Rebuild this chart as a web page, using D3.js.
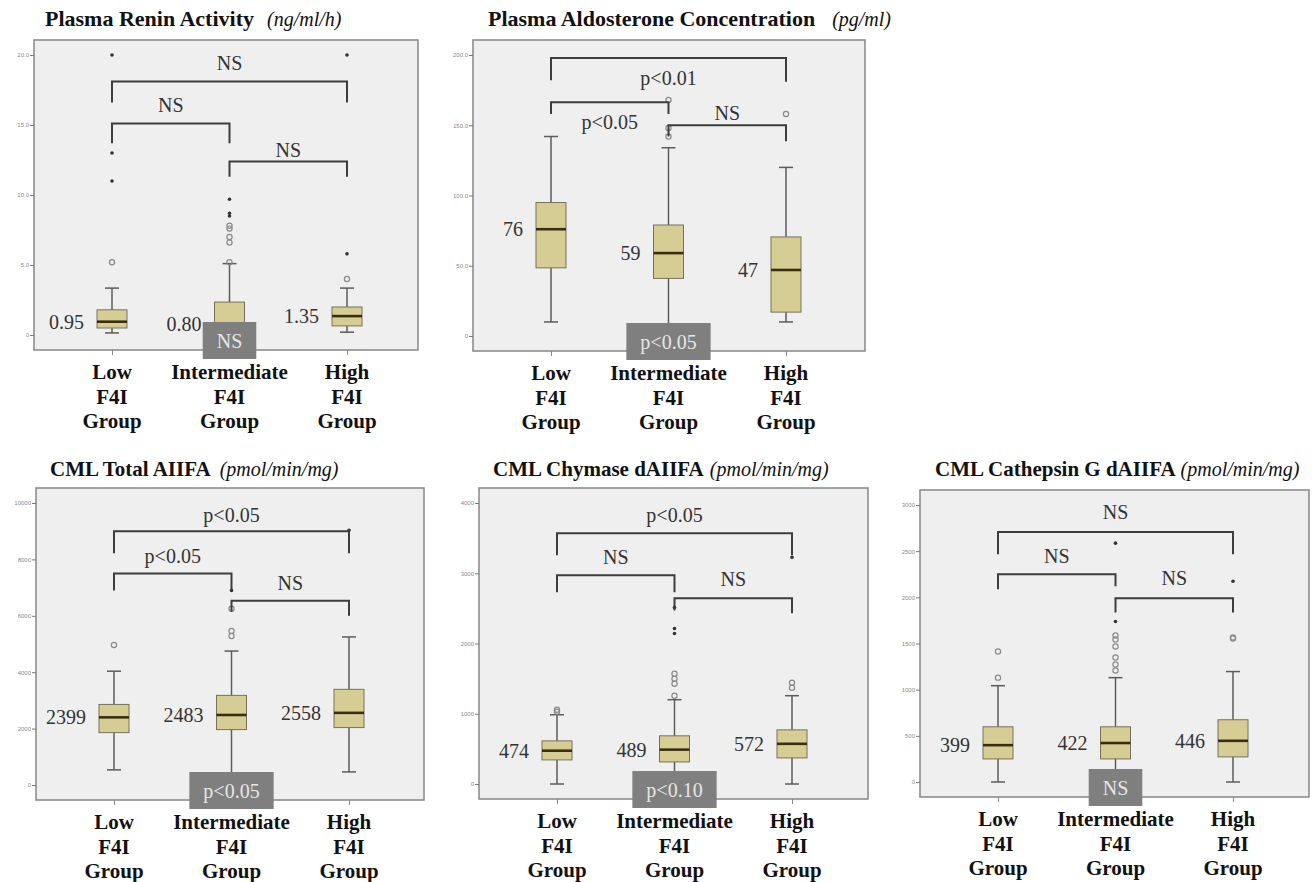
<!DOCTYPE html>
<html lang="en">
<head>
    <meta charset="UTF-8">
    <title>F4I Group Box Plots</title>
    <script src="https://d3js.org/d3.v7.min.js"></script>
    <style>
        body { margin: 0; background: #fff; }
        svg { display: block; }
        .serif { font-family: "Liberation Serif", "Times New Roman", serif; }
    </style>
</head>
<body>
    <div id="chart"></div>

    <script>
        // Groups on the x axis
        const groups = ["Low", "Intermediate", "High"];

        // Each box: [whisker low, q1, median, q3, whisker high]
        const reninTicks = [0, 5, 10, 15, 20];
        const reninStats = [[0.15, 0.5, 0.95, 1.8, 3.35], [0.05, 0.3, 0.80, 2.35, 5.1], [0.2, 0.65, 1.35, 2.0, 3.35]];
        const reninOutliers = [[5.2], [5.2, 6.6, 7.0, 7.6, 7.8], [4.0]];
        const reninExtremes = [[11, 13, 20], [8.5, 8.7, 9.7], [5.8, 20]];
        // Brackets: [from, to, bar, left leg end, right leg end, label, label value]
        const reninBrackets = [[0, 2, 18.1, 16.6, 16.6, "NS", 19.4], [0, 1, 15.1, 13.7, 13.7, "NS", 16.4], [1, 2, 12.4, 11.3, 11.3, "NS", 13.2]];
        const reninTrend = "NS";

        const aldoTicks = [0, 50, 100, 150, 200];
        const aldoStats = [[10, 48.5, 76, 95, 142], [5, 41, 59, 79, 134], [10, 17, 47, 70.5, 120]];
        const aldoOutliers = [[], [142, 148, 168], [158]];
        const aldoExtremes = [[], [], []];
        const aldoBrackets = [[0, 2, 197.9, 182, 181, "p<0.01", 183.5], [0, 1, 166.4, 158, 158, "p<0.05", 152], [1, 2, 150, 142, 138.6, "NS", 159]];
        const aldoTrend = "p<0.05";

        const totalTicks = [0, 2000, 4000, 6000, 8000, 10000];
        const totalStats = [[536, 1857, 2399, 2857, 4036], [100, 1964, 2483, 3178, 4750], [464, 2036, 2558, 3393, 5250]];
        const totalOutliers = [[4964], [5286, 5464, 6250], []];
        const totalExtremes = [[], [6900], [9036]];
        const totalBrackets = [[0, 2, 9000, 8214, 8214, "p<0.05", 9571], [0, 1, 7500, 6893, 6893, "p<0.05", 8107], [1, 2, 6536, 6143, 6000, "NS", 7179]];
        const totalTrend = "p<0.05";

        const chymaseTicks = [0, 1000, 2000, 3000, 4000];
        const chymaseStats = [[0, 343, 474, 614, 986], [30, 314, 489, 686, 1200], [0, 371, 572, 771, 1257]];
        const chymaseOutliers = [[1030, 1057], [1257, 1428, 1500, 1571], [1371, 1443]];
        const chymaseExtremes = [[], [2143, 2214, 2514], [3228]];
        const chymaseBrackets = [[0, 2, 3571, 3257, 3257, "p<0.05", 3829], [0, 1, 2971, 2729, 2729, "NS", 3229], [1, 2, 2643, 2471, 2429, "NS", 2914]];
        const chymaseTrend = "p<0.10";

        const cathepsinTicks = [0, 500, 1000, 1500, 2000, 2500, 3000];
        const cathepsinStats = [[0, 250, 399, 598, 1043], [0, 250, 422, 598, 1130], [0, 272, 446, 674, 1196]];
        const cathepsinOutliers = [[1130, 1413], [1207, 1272, 1348, 1467, 1543, 1587], [1554, 1565]];
        const cathepsinExtremes = [[], [1739, 2587], [2174]];
        const cathepsinBrackets = [[0, 2, 2707, 2467, 2467, "NS", 2924], [0, 1, 2250, 2087, 2120, "NS", 2446], [1, 2, 1989, 1837, 1837, "NS", 2207]];
        const cathepsinTrend = "NS";

        const oneDecimal = v => v === 0 ? "0" : v.toFixed(1);
        const integer = d3.format("d");

        // Panel layout: frame = [left, top, right, bottom]
        const panels = [
            {title: "Plasma Renin Activity", unit: "(ng/ml/h)", gap: 8, titleSize: 22, titleX: 45, titleY: 26, frame: [34, 40, 418, 350],
             ticks: reninTicks, stats: reninStats, outliers: reninOutliers, extremes: reninExtremes,
             brackets: reninBrackets, trend: reninTrend, tickFmt: oneDecimal, medFmt: v => v.toFixed(2)},
            {title: "Plasma Aldosterone Concentration", unit: "(pg/ml)", gap: 12, titleSize: 22, titleX: 488, titleY: 26, frame: [473, 40, 865, 351],
             ticks: aldoTicks, stats: aldoStats, outliers: aldoOutliers, extremes: aldoExtremes,
             brackets: aldoBrackets, trend: aldoTrend, tickFmt: oneDecimal, medFmt: integer},
            {title: "CML Total AIIFA", unit: "(pmol/min/mg)", gap: 4, titleSize: 21, titleX: 50, titleY: 476, frame: [36, 488, 424, 800],
             ticks: totalTicks, stats: totalStats, outliers: totalOutliers, extremes: totalExtremes,
             brackets: totalBrackets, trend: totalTrend, tickFmt: integer, medFmt: integer},
            {title: "CML Chymase dAIIFA", unit: "(pmol/min/mg)", gap: 1, titleSize: 21, titleX: 493, titleY: 476, frame: [479, 488, 868, 799],
             ticks: chymaseTicks, stats: chymaseStats, outliers: chymaseOutliers, extremes: chymaseExtremes,
             brackets: chymaseBrackets, trend: chymaseTrend, tickFmt: integer, medFmt: integer},
            {title: "CML Cathepsin G dAIIFA", unit: "(pmol/min/mg)", gap: 0, titleSize: 21, titleX: 935, titleY: 476, frame: [920, 490, 1309, 797],
             ticks: cathepsinTicks, stats: cathepsinStats, outliers: cathepsinOutliers, extremes: cathepsinExtremes,
             brackets: cathepsinBrackets, trend: cathepsinTrend, tickFmt: integer, medFmt: integer}
        ];

        const svg = d3.select("#chart")
            .append("svg")
            .attr("width", 1312)
            .attr("height", 882);

        function drawPanel(p) {
            const [l, t, r, b] = p.frame;
            const g = svg.append("g");

            const y = d3.scaleLinear()
                .domain([0, d3.max(p.ticks)])
                .range([b - 15, t + 15]);

            const x = d3.scalePoint()
                .domain(groups)
                .range([l + 78, l + 313]);

            // Title
            const title = g.append("text")
                .attr("class", "serif")
                .attr("x", p.titleX)
                .attr("y", p.titleY)
                .style("font-size", p.titleSize + "px")
                .style("font-weight", "bold")
                .attr("fill", "#111")
                .text(p.title);
            title.append("tspan")
                .attr("dx", p.gap)
                .style("font-weight", "normal")
                .style("font-style", "italic")
                .style("font-size", "20px")
                .text(" " + p.unit);

            // Plot frame
            g.append("rect")
                .attr("x", l)
                .attr("y", t)
                .attr("width", r - l)
                .attr("height", b - t)
                .attr("fill", "#efefef")
                .attr("stroke", "#8e8e8e")
                .attr("stroke-width", 1.6);

            // Y axis
            const yAxis = g.append("g")
                .attr("transform", `translate(${l},0)`)
                .call(d3.axisLeft(y).tickValues(p.ticks).tickFormat(p.tickFmt).tickSize(4).tickPadding(1));
            yAxis.select(".domain").remove();
            yAxis.selectAll("line").attr("stroke", "#7a7a7a");
            yAxis.selectAll("text")
                .attr("fill", "#8a8a8a")
                .style("font-family", "Arial, sans-serif")
                .style("font-size", "6px");

            // X axis ticks
            const xAxis = g.append("g")
                .attr("transform", `translate(0,${b})`)
                .call(d3.axisBottom(x).tickSize(5).tickFormat(""));
            xAxis.select(".domain").remove();
            xAxis.selectAll("line").attr("stroke", "#8a8a8a");

            // X labels
            groups.forEach(grp => {
                const lab = g.append("text")
                    .attr("class", "serif")
                    .attr("text-anchor", "middle")
                    .style("font-size", "21px")
                    .style("font-weight", "bold")
                    .attr("fill", "#111");
                [grp, "F4I", "Group"].forEach((line, i) => {
                    lab.append("tspan")
                        .attr("x", x(grp))
                        .attr("y", b + 29 + i * 24.5)
                        .text(line);
                });
            });

            // Boxes
            const halfBox = 15, halfCap = 7;
            p.stats.forEach((s, i) => {
                const cx = x(groups[i]);
                const [lo, q1, med, q3, hi] = s;
                g.append("line")
                    .attr("x1", cx).attr("x2", cx)
                    .attr("y1", y(lo)).attr("y2", y(hi))
                    .attr("stroke", "#5c5c5c")
                    .attr("stroke-width", 1.5);
                [lo, hi].forEach(v => {
                    g.append("line")
                        .attr("x1", cx - halfCap).attr("x2", cx + halfCap)
                        .attr("y1", y(v)).attr("y2", y(v))
                        .attr("stroke", "#5c5c5c")
                        .attr("stroke-width", 1.5);
                });
                g.append("rect")
                    .attr("x", cx - halfBox)
                    .attr("y", y(q3))
                    .attr("width", halfBox * 2)
                    .attr("height", y(q1) - y(q3))
                    .attr("fill", "#d6cd95")
                    .attr("stroke", "#76725a")
                    .attr("stroke-width", 1);
                g.append("line")
                    .attr("x1", cx - halfBox).attr("x2", cx + halfBox)
                    .attr("y1", y(med)).attr("y2", y(med))
                    .attr("stroke", "#3a2e12")
                    .attr("stroke-width", 2.6);

                // Median label
                g.append("text")
                    .attr("class", "serif")
                    .attr("x", cx - 28)
                    .attr("y", y(med))
                    .attr("dy", "0.35em")
                    .attr("text-anchor", "end")
                    .style("font-size", "20px")
                    .attr("fill", "#333")
                    .text(p.medFmt(med));

                g.selectAll(null)
                    .data(p.outliers[i])
                    .enter().append("circle")
                    .attr("cx", cx)
                    .attr("cy", d => y(d))
                    .attr("r", 2.6)
                    .attr("fill", "none")
                    .attr("stroke", "#8a8a8a")
                    .attr("stroke-width", 1.2);

                g.selectAll(null)
                    .data(p.extremes[i])
                    .enter().append("circle")
                    .attr("cx", cx)
                    .attr("cy", d => y(d))
                    .attr("r", 1.8)
                    .attr("fill", "#333");
            });

            // Significance brackets
            p.brackets.forEach(br => {
                const [from, to, bar, legL, legR, label, labelAt] = br;
                const x1 = x(groups[from]), x2 = x(groups[to]);
                const path = d3.path();
                path.moveTo(x1, y(legL));
                path.lineTo(x1, y(bar));
                path.lineTo(x2, y(bar));
                path.lineTo(x2, y(legR));
                g.append("path")
                    .attr("d", path.toString())
                    .attr("fill", "none")
                    .attr("stroke", "#3d3d3d")
                    .attr("stroke-width", 2);
                g.append("text")
                    .attr("class", "serif")
                    .attr("x", (x1 + x2) / 2)
                    .attr("y", y(labelAt))
                    .attr("dy", "0.35em")
                    .attr("text-anchor", "middle")
                    .style("font-size", "20px")
                    .attr("fill", "#333")
                    .text(label);
            });

            // Trend box over the intermediate group
            const cxMid = x(groups[1]);
            const trendText = g.append("text")
                .attr("class", "serif")
                .attr("x", cxMid)
                .attr("y", b - 28 + 18.5)
                .attr("dy", "0.35em")
                .attr("text-anchor", "middle")
                .style("font-size", "20px")
                .attr("fill", "#e6e6e6")
                .text(p.trend);
            const tw = trendText.node().getComputedTextLength() + 28;
            g.insert("rect", () => trendText.node())
                .attr("x", cxMid - tw / 2)
                .attr("y", b - 28)
                .attr("width", tw)
                .attr("height", 37)
                .attr("fill", "#7f7f7f");
        }

        panels.forEach(drawPanel);
    </script>
</body>
</html>
